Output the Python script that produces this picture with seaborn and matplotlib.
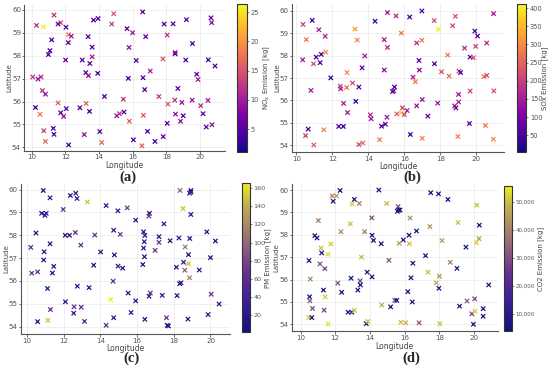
import numpy as np
import pandas as pd
import seaborn as sns
import matplotlib.pyplot as plt
from matplotlib.colors import Normalize, LinearSegmentedColormap
from matplotlib.cm import ScalarMappable
from matplotlib.ticker import FuncFormatter

# (a) NOx emissions
lon_a = [11.32, 10.28, 10.69, 11.72, 11.56, 12.03, 12.19, 12.35, 11.18, 12.17,
         11.08, 10.99, 12.01, 13.00, 13.67, 13.94, 13.35, 13.59, 13.59, 13.45,
         13.21, 13.37, 13.92, 14.87, 14.75, 15.66, 15.99, 15.78, 16.21, 15.74,
         16.59, 16.77, 17.04, 16.61, 16.71, 17.87, 18.40, 19.19, 18.05, 17.79,
         18.52, 18.52, 19.55, 19.15, 20.49, 20.65, 20.69, 20.89, 19.80, 19.88,
         10.06, 10.37, 10.55, 10.63, 10.81, 10.22, 10.49, 10.71, 11.28, 11.32,
         10.81, 12.19, 11.56, 11.72, 11.89, 12.05, 12.86, 13.23, 13.43, 13.12,
         14.04, 14.16, 14.32, 15.05, 15.21, 15.48, 15.44, 15.80, 16.04, 16.63,
         16.55, 16.88, 17.32, 17.55, 18.68, 18.09, 18.05, 17.81, 18.50, 18.54,
         18.92, 19.00, 18.84, 19.53, 20.04, 20.47, 20.18, 20.37, 20.71]
lat_a = [59.77, 59.32, 59.26, 59.44, 59.38, 59.24, 58.92, 58.85, 58.69, 58.57,
         58.22, 58.05, 57.81, 57.81, 59.55, 59.62, 58.83, 58.37, 57.95, 57.66,
         57.26, 57.13, 57.23, 59.83, 59.38, 59.18, 59.00, 58.36, 57.79, 57.01,
         59.91, 58.83, 57.33, 57.04, 56.52, 59.38, 59.39, 59.57, 58.90, 57.86,
         58.14, 58.08, 58.53, 57.81, 57.82, 59.65, 59.44, 57.55, 57.19, 56.96,
         57.07, 56.98, 57.07, 56.48, 56.32, 55.74, 55.44, 54.73, 54.83, 54.57,
         54.26, 54.11, 55.94, 55.51, 55.35, 55.69, 55.73, 55.92, 55.57, 54.56,
         54.69, 54.21, 56.22, 55.38, 55.47, 55.54, 56.10, 55.14, 54.33, 55.40,
         54.07, 54.70, 54.26, 56.22, 56.57, 55.89, 55.05, 54.47, 56.06, 55.45,
         55.96, 55.38, 55.14, 56.06, 55.82, 56.05, 55.47, 54.89, 54.99]
nox = [12, 12, 26, 15, 5, 4, 18, 10, 4, 6,
       4, 5, 6, 4, 4, 4, 5, 5, 10, 5,
       5, 9, 4, 15, 13, 5, 10, 9, 5, 4,
       5, 6, 10, 5, 5, 4, 5, 5, 12, 15,
       10, 5, 5, 4, 4, 6, 9, 4, 5, 10,
       12, 9, 11, 12, 9, 4, 18, 13, 4, 4,
       17, 4, 16, 5, 9, 5, 5, 16, 4, 9,
       5, 17, 5, 9, 12, 5, 12, 16, 5, 16,
       16, 5, 4, 13, 5, 15, 5, 5, 12, 9,
       9, 5, 9, 9, 12, 10, 5, 5, 9]

# (b) SOx emissions
lon_b = [10.37, 10.88, 11.25, 10.55, 11.60, 11.63, 10.35, 11.10, 11.38, 10.95,
         11.32, 11.91, 10.81, 10.51, 10.66, 10.97, 11.52, 13.25, 13.38, 14.37,
         15.06, 15.54, 15.83, 16.29, 16.97, 14.88, 15.06, 13.80, 13.65, 12.81,
         13.12, 13.47, 14.88, 12.44, 12.46, 12.79, 12.62, 13.30, 12.84, 12.35,
         12.61, 14.11, 14.15, 13.47, 13.69, 14.62, 14.73, 14.94, 15.03, 15.45,
         15.41, 15.34, 15.58, 15.82, 15.89, 16.00, 16.15, 16.33, 16.99, 16.48,
         16.61, 16.68, 16.97, 16.81, 16.83, 16.99, 16.68, 17.30, 17.65, 17.89,
         17.67, 18.06, 17.85, 18.40, 18.48, 18.68, 18.83, 18.79, 18.86, 18.97,
         19.03, 19.12, 19.01, 19.01, 19.34, 19.65, 19.83, 19.65, 19.61, 19.91,
         20.06, 19.96, 20.57, 20.42, 20.57, 20.50, 20.95, 20.97, 20.94]
lat_b = [59.40, 59.58, 59.16, 58.72, 58.87, 58.16, 57.82, 57.94, 58.06, 57.64,
         57.69, 57.01, 56.45, 54.43, 54.72, 54.01, 54.69, 59.19, 58.70, 59.54,
         59.93, 59.78, 59.01, 59.73, 60.00, 58.72, 58.37, 57.99, 57.46, 57.25,
         56.78, 56.60, 57.36, 56.64, 56.52, 56.58, 55.87, 55.96, 55.46, 54.84,
         54.84, 55.36, 55.18, 54.03, 54.10, 54.25, 54.85, 54.94, 55.25, 56.60,
         56.43, 56.40, 55.40, 55.46, 55.67, 55.37, 55.55, 54.48, 54.31, 57.04,
         56.84, 58.57, 58.69, 57.79, 57.36, 56.04, 55.76, 55.30, 59.57, 59.18,
         57.64, 57.28, 55.88, 58.03, 57.09, 59.34, 59.76, 55.76, 55.67, 54.39,
         57.31, 57.25, 56.27, 55.93, 58.34, 57.94, 57.91, 56.42, 54.97, 59.10,
         58.88, 58.42, 58.57, 57.07, 57.12, 54.88, 59.88, 56.43, 54.27]
sox = [200, 50, 150, 280, 160, 300, 150, 50, 50, 220,
       50, 30, 150, 200, 50, 240, 290, 320, 290, 40,
       150, 170, 280, 40, 60, 150, 170, 150, 80, 300,
       220, 50, 120, 200, 150, 270, 150, 40, 150, 80,
       40, 170, 140, 220, 260, 290, 50, 60, 140, 40,
       140, 80, 240, 380, 200, 220, 150, 40, 290, 150,
       280, 170, 280, 60, 120, 140, 140, 80, 220, 400,
       60, 220, 140, 280, 260, 220, 230, 150, 80, 290,
       200, 60, 150, 160, 170, 60, 220, 200, 80, 50,
       60, 200, 170, 270, 220, 280, 150, 220, 300]

# (c) PM emissions
lon_c = [10.88, 11.25, 12.36, 12.65, 12.72, 13.29, 11.97, 10.79, 10.97, 11.04,
         14.31, 14.95, 15.46, 15.92, 16.67, 16.64, 17.46, 18.34, 18.93, 18.93,
         18.86, 18.50, 18.93, 10.48, 12.08, 12.31, 12.63, 11.25, 12.93, 13.69,
         14.72, 15.08, 16.35, 16.42, 16.39, 16.35, 16.40, 16.31, 17.19, 17.19,
         16.98, 17.80, 18.28, 18.87, 18.62, 18.80, 18.80, 18.53, 18.14, 18.60,
         18.86, 19.80, 20.27, 20.00, 19.39, 10.20, 10.93, 10.90, 11.45, 11.38,
         10.57, 10.25, 13.63, 14.01, 14.76, 14.96, 15.21, 14.69, 12.74, 13.38,
         11.11, 12.09, 11.27, 12.56, 12.95, 12.54, 10.57, 11.13, 13.13, 14.31,
         14.72, 14.56, 15.51, 15.67, 15.92, 16.42, 16.65, 16.72, 17.37, 18.18,
         18.32, 18.39, 17.60, 17.64, 17.71, 18.77, 19.87, 20.04, 20.47]
lat_c = [59.96, 59.64, 59.74, 59.84, 59.61, 59.46, 59.13, 58.96, 58.87, 58.96,
         59.30, 59.07, 59.20, 58.66, 58.96, 58.84, 58.50, 59.96, 59.89, 59.96,
         59.84, 59.17, 58.91, 58.10, 58.00, 58.00, 58.12, 57.63, 57.57, 58.01,
         58.22, 58.04, 58.15, 57.99, 57.72, 57.44, 57.06, 56.72, 57.94, 57.69,
         57.34, 57.76, 57.88, 57.86, 57.49, 57.15, 56.76, 56.82, 56.60, 56.47,
         56.14, 58.15, 57.75, 57.02, 56.48, 57.47, 57.28, 56.92, 56.64, 56.35,
         56.40, 56.34, 56.69, 57.27, 57.14, 56.65, 56.56, 55.99, 55.77, 55.71,
         55.67, 55.09, 54.75, 54.87, 54.85, 54.59, 54.22, 54.28, 54.23, 54.06,
         54.39, 55.19, 55.47, 54.62, 55.13, 54.32, 55.33, 55.47, 55.37, 55.36,
         55.88, 55.92, 54.39, 54.06, 54.03, 54.33, 54.53, 55.42, 54.99]
pm = [20, 25, 30, 30, 30, 150, 70, 25, 20, 30,
      30, 25, 75, 25, 20, 70, 25, 100, 20, 15,
      30, 150, 20, 15, 20, 20, 70, 20, 65, 70,
      30, 75, 20, 30, 25, 25, 25, 15, 25, 70,
      70, 15, 25, 20, 110, 15, 150, 30, 25, 95,
      115, 20, 20, 20, 25, 70, 20, 25, 25, 20,
      70, 70, 15, 25, 20, 25, 20, 60, 25, 20,
      25, 25, 65, 70, 65, 20, 15, 150, 60, 65,
      25, 165, 20, 25, 20, 25, 30, 65, 25, 20,
      20, 20, 70, 15, 15, 20, 25, 70, 20]

# (d) CO2 emissions
lon_d = [12.28, 11.83, 12.07, 11.88, 13.10, 12.97, 13.38, 14.51, 14.96, 15.62,
         15.65, 15.58, 15.73, 16.31, 17.50, 17.95, 18.49, 20.15, 20.30, 14.10,
         11.03, 12.87, 12.33, 13.69, 14.12, 14.20, 14.65, 15.92, 16.25, 16.68,
         17.45, 18.15, 19.07, 19.53, 20.13, 20.28, 10.82, 10.95, 11.74, 11.18,
         11.22, 11.59, 10.49, 11.12, 11.40, 10.56, 13.51, 15.09, 15.69, 16.27,
         16.47, 17.20, 17.35, 18.00, 18.62, 19.01, 13.84, 14.12, 13.43, 13.45,
         13.30, 12.91, 12.15, 11.32, 12.37, 11.42, 10.52, 10.54, 10.69, 10.47,
         10.65, 11.36, 11.59, 12.74, 12.95, 13.10, 13.79, 13.88, 14.68, 15.19,
         15.43, 15.54, 15.78, 16.06, 16.18, 16.36, 16.44, 16.83, 17.82, 17.97,
         18.02, 19.16, 19.59, 19.87, 20.03, 20.05, 19.96, 20.52, 20.52, 20.84]
lat_d = [59.98, 59.74, 59.74, 59.50, 59.58, 59.37, 59.40, 60.00, 59.40, 59.26,
         59.10, 59.05, 59.11, 58.75, 59.88, 59.83, 59.58, 59.32, 58.43, 58.76,
         58.64, 58.49, 58.14, 58.14, 57.98, 57.75, 57.60, 57.77, 57.98, 58.17,
         58.37, 57.74, 58.55, 57.45, 57.65, 57.83, 57.96, 57.86, 57.59, 57.41,
         57.19, 57.13, 56.85, 56.70, 56.49, 56.02, 57.00, 56.86, 57.62, 57.60,
         56.73, 57.07, 56.33, 56.15, 56.77, 56.50, 56.33, 56.12, 55.94, 55.76,
         55.53, 56.06, 55.84, 55.53, 55.43, 55.23, 55.23, 55.05, 54.71, 54.31,
         54.30, 54.63, 54.01, 54.54, 54.54, 54.62, 54.03, 54.13, 54.86, 54.78,
         55.07, 55.07, 54.09, 54.07, 55.46, 56.08, 55.00, 54.07, 55.85, 55.61,
         54.03, 54.81, 55.04, 54.47, 55.14, 54.58, 54.00, 54.70, 54.36, 55.76]
co2 = [6000, 42000, 45000, 8000, 7000, 52000, 40000, 8000, 50000, 30000,
       6000, 7000, 6000, 42000, 7000, 8000, 6000, 50000, 7000, 30000,
       40000, 50000, 42000, 40000, 6000, 7000, 6000, 8000, 7000, 8000,
       44000, 45000, 50000, 7000, 52000, 45000, 8000, 7000, 52000, 50000,
       8000, 53000, 9000, 30000, 28000, 40000, 50000, 32000, 45000, 50000,
       7000, 9000, 50000, 44000, 40000, 10000, 7000, 6000, 28000, 7000,
       6000, 8000, 30000, 7000, 8000, 52000, 7000, 32000, 30000, 52000,
       6000, 28000, 54000, 8000, 7000, 50000, 7000, 50000, 48000, 6000,
       30000, 8000, 50000, 48000, 7000, 6000, 8000, 32000, 48000, 8000,
       50000, 9000, 32000, 28000, 30000, 52000, 7000, 7000, 6000, 7000]

sns.set_style("whitegrid", {"grid.color": "#ececec", "axes.edgecolor": "#555555",
                            "xtick.bottom": True, "ytick.left": True})
plt.rcParams["font.family"] = ["DejaVu Sans"]
plt.rcParams["xtick.major.size"] = 1.8
plt.rcParams["ytick.major.size"] = 1.5
plt.rcParams["xtick.color"] = "#555555"
plt.rcParams["ytick.color"] = "#555555"

muted = LinearSegmentedColormap.from_list(
    "muted_plasma",
    [(0.0, "#16107a"), (0.2, "#3a1f98"), (0.4, "#66308f"), (0.55, "#8a5a80"),
     (0.72, "#a88a66"), (0.87, "#c4b44c"), (1.0, "#eeee22")])

panels = [
    dict(df=pd.DataFrame({"lon": lon_a, "lat": lat_a, "val": nox}),
         cmap=plt.get_cmap("plasma"), vlim=(1.1, 26.4),
         label="NO$_\\mathregular{x}$ Emission [kg]", tag="(a)",
         xlim=(9.55, 21.48), ylim=(53.85, 60.22),
         ax=[0.044, 0.589, 0.365, 0.398], cax=[0.431, 0.586, 0.018, 0.403],
         cblab=24, cbsize=4.8, tagpos=(0.233, 0.516), fmt=None),
    dict(df=pd.DataFrame({"lon": lon_b, "lat": lat_b, "val": sox}),
         cmap=plt.get_cmap("plasma"), vlim=(4, 411),
         label="SOx Emission [kg]", tag="(b)",
         xlim=(9.76, 21.52), ylim=(53.7, 60.31),
         ax=[0.531, 0.586, 0.385, 0.403], cax=[0.940, 0.586, 0.017, 0.403],
         cblab=24, cbsize=4.8, tagpos=(0.749, 0.516), fmt=None),
    dict(df=pd.DataFrame({"lon": lon_c, "lat": lat_c, "val": pm}),
         cmap=muted, vlim=(1.5, 165.5),
         label="PM Emission [kg]", tag="(c)",
         xlim=(9.66, 21.06), ylim=(53.68, 60.25),
         ax=[0.038, 0.090, 0.380, 0.409], cax=[0.44, 0.095, 0.015, 0.406],
         cblab=22, cbsize=4.6, tagpos=(0.24, 0.024), fmt=None),
    dict(df=pd.DataFrame({"lon": lon_d, "lat": lat_d, "val": co2}),
         cmap=muted, vlim=(3900, 55500),
         label="CO2 Emission [kg]", tag="(d)",
         xlim=(9.48, 21.36), ylim=(53.7, 60.26),
         ax=[0.530, 0.098, 0.375, 0.400], cax=[0.916, 0.098, 0.015, 0.395],
         cblab=33, cbsize=4.0, tagpos=(0.747, 0.024),
         fmt=FuncFormatter(lambda v, p: f"{v:,.0f}")),
]

W, H = 550, 367
fig = plt.figure(figsize=(5.5, 3.67), dpi=100)

for p in panels:
    ax = fig.add_axes(p["ax"])
    norm = Normalize(*p["vlim"])
    sns.scatterplot(data=p["df"], x="lon", y="lat", hue="val", palette=p["cmap"],
                    hue_norm=norm, marker="x", s=10, linewidth=0.9,
                    legend=False, ax=ax)
    ax.set_xlim(*p["xlim"])
    ax.set_ylim(*p["ylim"])
    ax.set_xticks([10, 12, 14, 16, 18, 20])
    ax.set_yticks([54, 55, 56, 57, 58, 59, 60])
    ax.tick_params(labelsize=5.1, pad=0.8, width=0.6)
    ax.set_xlabel("Longitude", fontsize=5.5, color="#444444")
    ax.set_ylabel("Latitude", fontsize=5, color="#444444")
    # label offsets in pixels from the spines
    ax.xaxis.set_label_coords(0.5, -10.5 / (p["ax"][3] * H))
    ax.yaxis.set_label_coords(-12 / (p["ax"][2] * W), 0.5)
    ax.grid(linewidth=0.6)
    sns.despine(ax=ax)
    for s in ["left", "bottom"]:
        ax.spines[s].set_linewidth(0.8)

    cax = fig.add_axes(p["cax"])
    sm = ScalarMappable(norm=norm, cmap=p["cmap"])
    cb = fig.colorbar(sm, cax=cax)
    cb.outline.set_edgecolor("#333333")
    cb.outline.set_linewidth(0.8)
    cb.ax.tick_params(labelsize=p["cbsize"], pad=1, length=1.5, width=0.5)
    if p["fmt"] is not None:
        cb.ax.yaxis.set_major_formatter(p["fmt"])
    cb.set_label(p["label"], fontsize=5, color="#444444")
    cb.ax.yaxis.set_label_coords(p["cblab"] / (p["cax"][2] * W), 0.5)

    fig.text(*p["tagpos"], p["tag"], ha="center", va="center", fontsize=10.5,
             fontweight="bold", family="Liberation Serif")

fig.savefig("out.png", dpi=100)
